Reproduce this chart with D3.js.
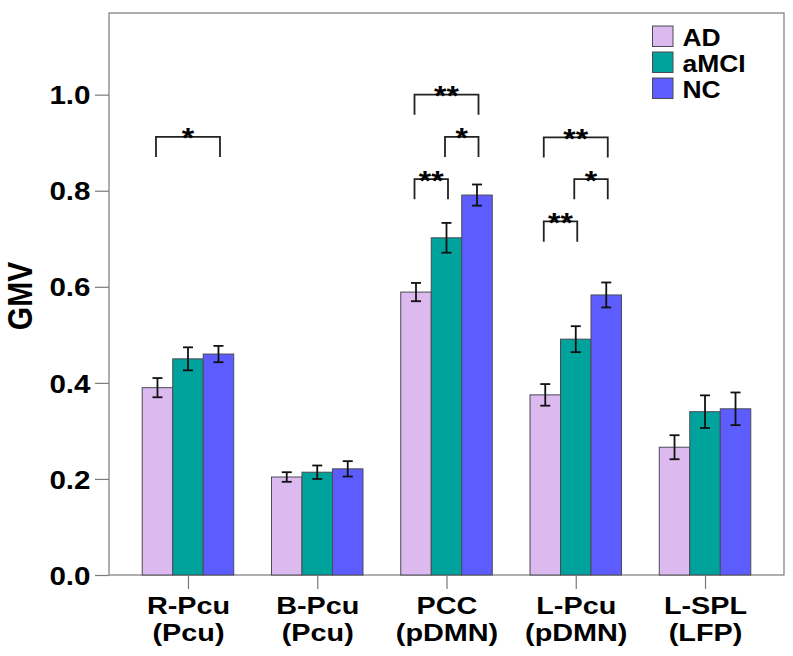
<!DOCTYPE html>
<html><head><meta charset="utf-8">
<script src="https://cdn.jsdelivr.net/npm/d3@7"></script>
<style>
html,body{margin:0;padding:0;background:#fff;}
svg{display:block;}
text{font-family:"Liberation Sans",Arial,sans-serif;fill:#000;}
</style></head>
<body>
<svg id="chart" width="793" height="656"></svg>
<script>
const categories = ["R-Pcu","B-Pcu","PCC","L-Pcu","L-SPL"];
const subLabels = ["(Pcu)","(Pcu)","(pDMN)","(pDMN)","(LFP)"];
const groups = ["AD","aMCI","NC"];
const adMeans = [0.390,0.204,0.589,0.375,0.266];
const adErr = [0.020,0.010,0.019,0.0225,0.025];
const mciMeans = [0.450,0.214,0.702,0.491,0.340];
const mciErr = [0.024,0.014,0.031,0.027,0.034];
const ncMeans = [0.460,0.221,0.791,0.583,0.346];
const ncErr = [0.017,0.016,0.022,0.026,0.034];
const yTicks = [0,0.2,0.4,0.6,0.8,1.0];
const yLabel = "GMV";
// significance brackets
const bracketCats = ["R-Pcu","PCC","PCC","PCC","L-Pcu","L-Pcu","L-Pcu"];
const bracketFrom = ["AD","AD","aMCI","AD","AD","aMCI","AD"];
const bracketTo = ["NC","NC","NC","aMCI","NC","NC","aMCI"];
const bracketLevel = [0.912,1.0,0.912,0.824,0.911,0.824,0.736];
const bracketLabel = ["*","**","*","**","**","*","**"];
const colors = ["#dcbaf0","#00a29c","#5c5cff"];

const means = [adMeans, mciMeans, ncMeans];
const errs = [adErr, mciErr, ncErr];

const svg = d3.select("#chart");
const L = 109, R = 784, T = 13, B = 575;
const SX = 1.16; // horizontal stretch of the reference typography

const x = d3.scalePoint().domain(categories).range([L, R]).padding(0.611);
const barW = 30.5;
const xs = d3.scaleBand().domain(groups).range([-1.5*barW, 1.5*barW]).padding(0);
const y = d3.scaleLinear().domain([0, 1.17]).range([B, T]);

// frame
svg.append("rect").attr("x", L).attr("y", T).attr("width", R-L).attr("height", B-T)
  .attr("fill","none").attr("stroke","#7a7a7a").attr("stroke-width",1.2);

// bars
const rows = [];
categories.forEach((c,i)=>groups.forEach((g,j)=>rows.push({c,g,j,m:means[j][i],e:errs[j][i]})));
svg.append("g").selectAll("rect").data(rows).join("rect")
  .attr("x", d=>x(d.c)+xs(d.g))
  .attr("y", d=>y(d.m))
  .attr("width", xs.bandwidth())
  .attr("height", d=>y(0)-y(d.m))
  .attr("fill", d=>colors[d.j])
  .attr("stroke","#4a4a55").attr("stroke-width",1);

// error bars
const eg = svg.append("g").attr("stroke","#111").attr("stroke-width",1.8).attr("fill","none");
rows.forEach(d=>{
  const cx = x(d.c)+xs(d.g)+xs.bandwidth()/2;
  const y1 = y(d.m+d.e), y2 = y(d.m-d.e);
  eg.append("line").attr("x1",cx).attr("x2",cx).attr("y1",y1).attr("y2",y2);
  eg.append("line").attr("x1",cx-5).attr("x2",cx+5).attr("y1",y1).attr("y2",y1);
  eg.append("line").attr("x1",cx-5).attr("x2",cx+5).attr("y1",y2).attr("y2",y2);
});

// y axis
const yAxis = d3.axisLeft(y).tickValues(yTicks).tickFormat(d3.format(".1f")).tickSize(14).tickPadding(4);
const ya = svg.append("g").attr("transform",`translate(${L},0)`).call(yAxis);
ya.select(".domain").remove();
ya.selectAll(".tick line").attr("stroke","#7a7a7a").attr("stroke-width",1.2);
ya.selectAll(".tick text").attr("font-size",25.5).attr("font-weight","bold")
  .attr("font-family","Liberation Sans, Arial, sans-serif")
  .attr("fill","#000").attr("dy","0.36em").attr("x", -18.5/SX).attr("transform",`scale(${SX},1)`);

// x axis
const xAxis = d3.axisBottom(x).tickSize(14).tickFormat("");
const xa = svg.append("g").attr("transform",`translate(0,${B})`).call(xAxis);
xa.select(".domain").remove();
xa.selectAll(".tick line").attr("stroke","#7a7a7a").attr("stroke-width",1.2);
const xl = svg.append("g");
categories.forEach((c,i)=>{
  xl.append("text").attr("transform",`translate(${x(c)+0.5},613.5) scale(1.2,1)`).attr("text-anchor","middle")
    .attr("font-size",24).attr("font-weight","bold").text(c);
  xl.append("text").attr("transform",`translate(${x(c)+0.5},640.5) scale(1.2,1)`).attr("text-anchor","middle")
    .attr("font-size",24).attr("font-weight","bold").text(subLabels[i]);
});

// y label
svg.append("text").attr("transform",`translate(31.5,296) scale(${SX},1) rotate(-90)`)
  .attr("text-anchor","middle").attr("font-size",30).attr("font-weight","bold").text(yLabel);

// brackets
const bg = svg.append("g");
const legDrop = 0.042;
bracketCats.forEach((c,i)=>{
  const cxOf = g => x(c)+xs(g)+xs.bandwidth()/2;
  const x1 = cxOf(bracketFrom[i]) - 1.5, x2 = cxOf(bracketTo[i]) + 1.5;
  const yl = y(bracketLevel[i]), yb = y(bracketLevel[i]-legDrop);
  bg.append("path").attr("d",`M${x1},${yb}V${yl}H${x2}V${yb}`)
    .attr("fill","none").attr("stroke","#222").attr("stroke-width",1.8);
  bg.append("text").attr("transform",`translate(${(x1+x2)/2},${yl + 10.5}) scale(1.18,1)`)
    .attr("text-anchor","middle")
    .attr("font-size",27).attr("font-weight","bold").text(bracketLabel[i]);
});

// legend
const lg = svg.append("g");
groups.forEach((g,j)=>{
  const yy = 26 + j*26;
  lg.append("rect").attr("x",652.5).attr("y",yy).attr("width",20.5).attr("height",20.5)
    .attr("fill",colors[j]).attr("stroke","#4a4a55").attr("stroke-width",1);
  lg.append("text").attr("transform",`translate(682.5,${yy+20}) scale(1.15,1)`)
    .attr("font-size",23).attr("font-weight","bold").text(g);
});
</script>
</body></html>
